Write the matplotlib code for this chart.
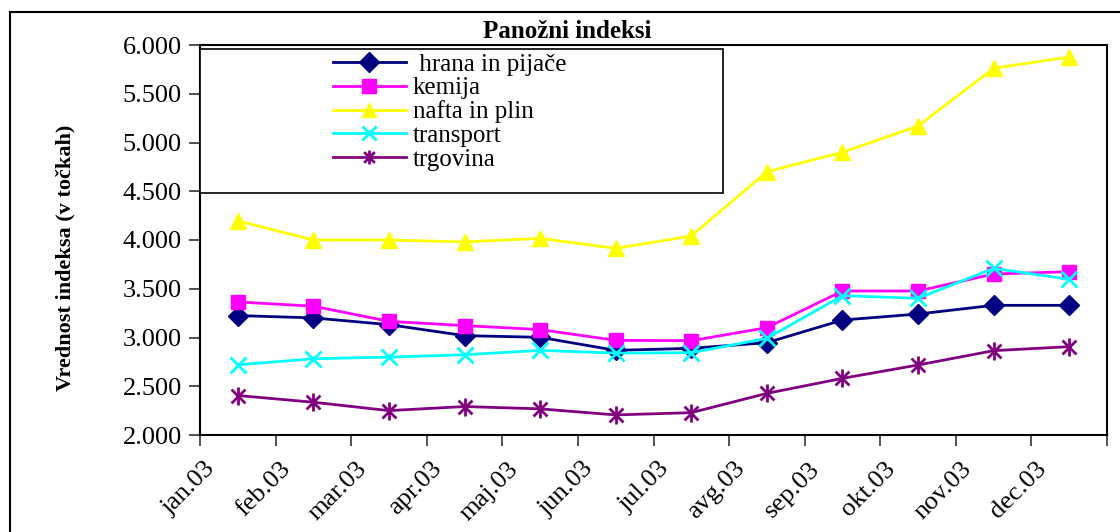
import numpy as np
from matplotlib import pyplot as plt
from matplotlib.path import Path
from matplotlib.patches import Rectangle
from matplotlib.lines import Line2D
from matplotlib.transforms import ScaledTranslation

plt.rcParams['font.family'] = ['Liberation Serif', 'DejaVu Serif']

# ================= Podatki (vrednosti odčitane s slike)
meseci = ['jan.03', 'feb.03', 'mar.03', 'apr.03', 'maj.03', 'jun.03',
          'jul.03', 'avg.03', 'sep.03', 'okt.03', 'nov.03', 'dec.03']

hrana = [3225, 3201, 3132, 3019, 3002, 2868, 2889, 2947, 3179, 3241, 3330, 3330]
kemija = [3365, 3321, 3166, 3122, 3081, 2971, 2967, 3101, 3477, 3477, 3651, 3675]
nafta = [4196, 4000, 4000, 3980, 4017, 3914, 4041, 4700, 4900, 5169, 5762, 5876]
transport = [2720, 2782, 2799, 2823, 2868, 2840, 2844, 2991, 3429, 3402, 3709, 3597]
trgovina = [2405, 2336, 2250, 2292, 2268, 2206, 2229, 2427, 2581, 2718, 2865, 2906]

# zvezdica kot v Excelu: X + navpicna crta
zvezda = Path([(-1, -1), (1, 1), (-1, 1), (1, -1), (0, -1.3), (0, 1.3)],
              [Path.MOVETO, Path.LINETO, Path.MOVETO, Path.LINETO,
               Path.MOVETO, Path.LINETO])

serije = [
    (' hrana in pijače', hrana, '#000080', 'D', 10, 1),
    ('kemija', kemija, '#FF00FF', 's', 10, 1),
    ('nafta in plin', nafta, '#FFFF00', '^', 12, 1),
    ('transport', transport, '#00FFFF', 'x', 11, 2),
    ('trgovina', trgovina, '#800080', zvezda, 13, 2),
]

fig = plt.figure(figsize=(11.2, 5.32), dpi=100)
ax = fig.add_axes([200 / 1120, 1 - 435 / 532, 907 / 1120, 390 / 532])

x = np.arange(len(meseci))
for ime, vals, barva, m, ms, mew in serije:
    ax.plot(x, vals, color=barva, marker=m, markersize=ms, markeredgewidth=mew,
            markeredgecolor=barva, markerfacecolor=barva, linewidth=2, label=ime)

ax.set_xlim(-0.5, 11.5)
ax.set_ylim(2000, 6000)
ax.set_yticks(np.arange(2000, 6001, 500))
ax.set_yticklabels([f'{v // 1000}.{v % 1000:03d}' for v in range(2000, 6001, 500)], fontsize=19)
ax.set_xticks(np.arange(13) - 0.5)
ax.set_xticklabels(meseci + [''], fontsize=19, rotation=45, ha='right',
                   va='center', rotation_mode='anchor')
ax.tick_params(axis='both', direction='out', length=8, width=1.2, color='#333333')
ax.tick_params(axis='x', pad=14)
ax.tick_params(axis='y', pad=5)
for lab in ax.get_xticklabels():
    lab.set_transform(lab.get_transform() + ScaledTranslation(0.12, 0, fig.dpi_scale_trans))
for s in ax.spines.values():
    s.set_linewidth(1.5)

fig.text(65 / 1120, 1 - 258 / 532, 'Vrednost indeksa (v točkah)', fontsize=16,
         fontweight='bold', rotation=90, ha='center', va='center')

fig.text(567 / 1120, 1 - 32 / 532, 'Panožni indeksi', fontsize=18, fontweight='bold',
         ha='center', va='center')

# okvir legende
fig.patches.append(Rectangle((200 / 1120, 1 - 193 / 532), 523 / 1120, 144 / 532,
                             transform=fig.transFigure, facecolor='white',
                             edgecolor='black', linewidth=1.2, zorder=5))
leg = fig.legend(loc='upper left', bbox_to_anchor=(333 / 1120, 1 - 53 / 532),
                 frameon=False, fontsize=18, handlelength=2.9, handletextpad=0.3,
                 labelspacing=0.05, borderpad=0, borderaxespad=0)
leg.set_zorder(6)
for h in leg.legend_handles:
    h.set_markersize(10)

# okvir grafikona
fig.add_artist(Line2D([10 / 1120, 1], [1 - 12 / 532, 1 - 12 / 532],
                      transform=fig.transFigure, color='black', linewidth=1.5))
fig.add_artist(Line2D([10 / 1120, 10 / 1120], [0, 1 - 12 / 532],
                      transform=fig.transFigure, color='black', linewidth=1.5))

plt.savefig('out.png', dpi=100)
